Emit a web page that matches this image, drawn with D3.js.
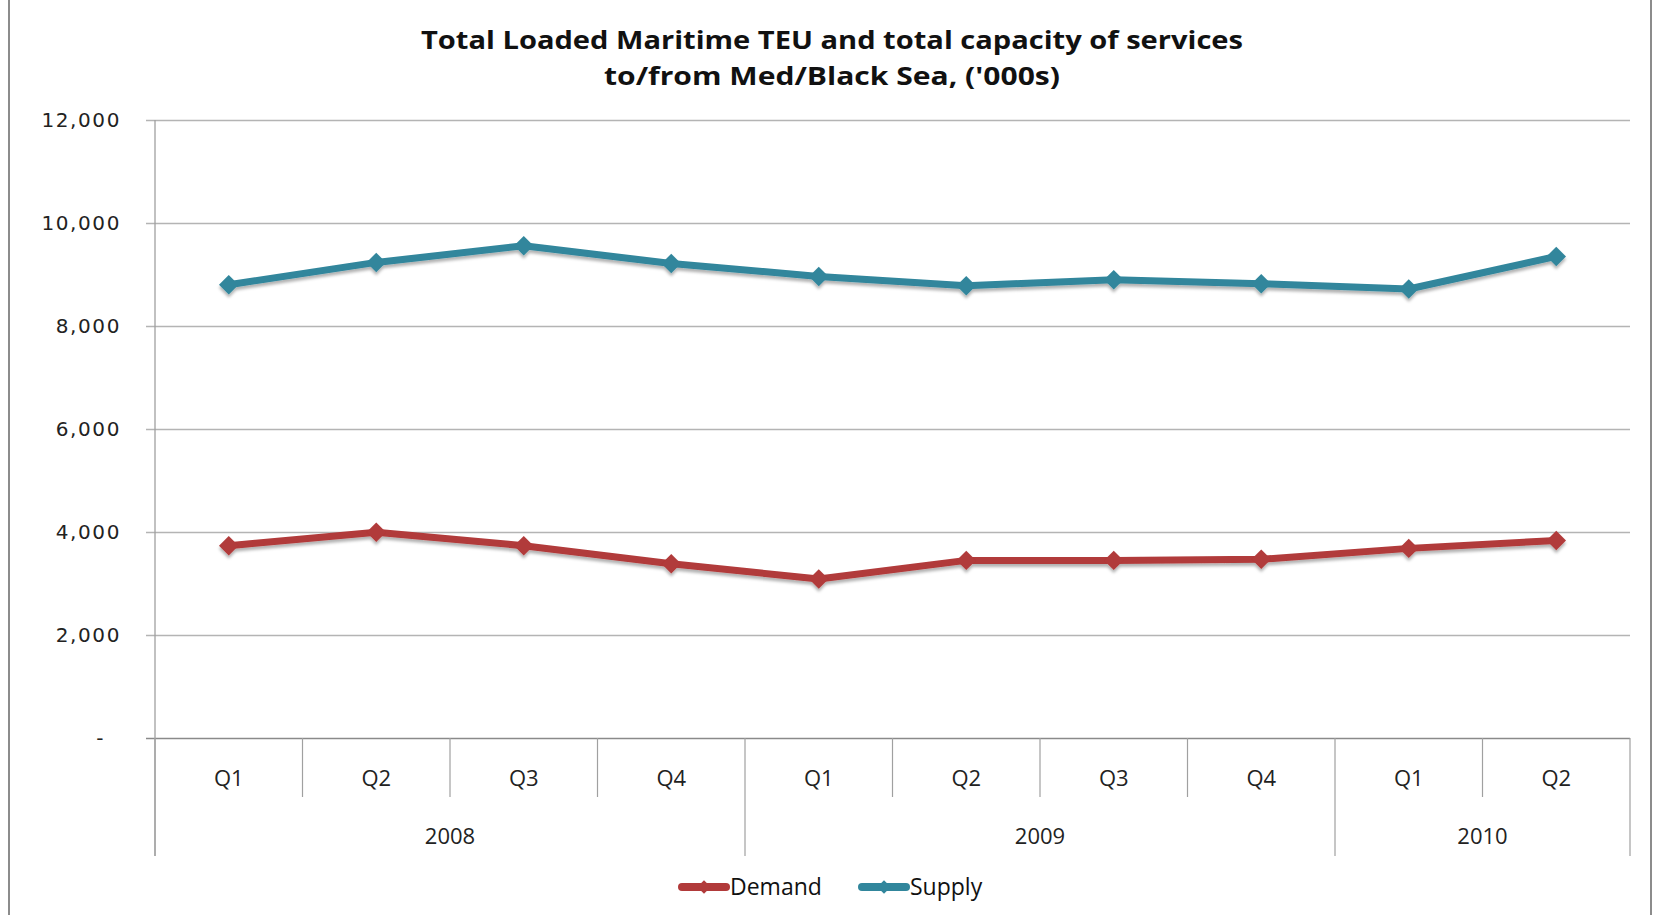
<!DOCTYPE html>
<html>
<head>
<meta charset="utf-8">
<script src="https://cdn.jsdelivr.net/npm/d3@7/dist/d3.min.js"></script>
<style>
  body { margin: 0; background: #fff; }
  svg { display: block; }
</style>
</head>
<body>
<svg></svg>
<script>
// quarters and years along the bottom
var quarters = ["Q1", "Q2", "Q3", "Q4", "Q1", "Q2", "Q3", "Q4", "Q1", "Q2"];
var years = ["2008", "2008", "2008", "2008", "2009", "2009", "2009", "2009", "2010", "2010"];
// '000s TEU
var demand = [3734, 3995, 3734, 3384, 3087, 3449, 3449, 3470, 3682, 3837];
var supply = [8802, 9235, 9559, 9214, 8963, 8782, 8899, 8821, 8718, 9351];
var yTicks = [0, 2000, 4000, 6000, 8000, 10000, 12000];
var seriesNames = ["Demand", "Supply"];
var seriesColors = ["#b13a3a", "#31869c"];

var svgWidth = 1654, svgHeight = 915;
var margin = { top: 120, right: 24, bottom: 177, left: 155 };
var width = svgWidth - margin.left - margin.right;
var height = svgHeight - margin.top - margin.bottom;

var svg = d3.select("svg")
  .attr("width", svgWidth)
  .attr("height", svgHeight);

// soft shadow like the excel markers
var defs = svg.append("defs");
defs.append("filter")
  .attr("id", "shadow")
  .attr("x", "-20%").attr("y", "-20%")
  .attr("width", "140%").attr("height", "160%")
  .append("feDropShadow")
  .attr("dx", 0).attr("dy", 3)
  .attr("stdDeviation", 1.8)
  .attr("flood-color", "#000")
  .attr("flood-opacity", 0.3);

// outer chart border
svg.append("line").attr("x1", 9).attr("x2", 9).attr("y1", 0).attr("y2", svgHeight)
  .attr("stroke", "#8c8c8c").attr("stroke-width", 2);
svg.append("line").attr("x1", 1651).attr("x2", 1651).attr("y1", 0).attr("y2", svgHeight)
  .attr("stroke", "#8c8c8c").attr("stroke-width", 2);

// title
var title = svg.append("g").attr("font-family", "'Open Sans', sans-serif")
  .attr("font-weight", "bold").attr("font-size", 25).attr("fill", "#111")
  .attr("text-anchor", "middle");
title.append("text").attr("x", 832).attr("y", 49)
  .attr("textLength", 822).attr("lengthAdjust", "spacingAndGlyphs")
  .text("Total Loaded Maritime TEU and total capacity of services");
title.append("text").attr("x", 832).attr("y", 85)
  .attr("textLength", 456).attr("lengthAdjust", "spacingAndGlyphs")
  .text("to/from Med/Black Sea, ('000s)");

var g = svg.append("g")
  .attr("transform", "translate(" + margin.left + "," + margin.top + ")");

var x = d3.scaleBand()
  .domain(d3.range(quarters.length))
  .range([0, width])
  .padding(0);

var y = d3.scaleLinear()
  .domain([0, 12000])
  .range([height, 0]);

// gridlines + y labels
var yAxis = g.append("g")
  .call(d3.axisLeft(y)
    .tickValues(yTicks)
    .tickSize(-width)
    .tickPadding(34)
    .tickFormat(function(d) { return d === 0 ? "-" : d3.format(",")(d); }));
yAxis.select(".domain").remove();
yAxis.selectAll(".tick line")
  .attr("x1", -9)
  .attr("stroke", function(d) { return d === 0 ? "#8a8a8a" : "#b4b4b4"; })
  .attr("stroke-width", 1.3);
yAxis.selectAll(".tick text")
  .attr("dx", function(d) { return d === 0 ? -16 : 0; })
  .attr("font-family", "'DejaVu Sans', Verdana, sans-serif")
  .attr("font-size", 20)
  .attr("letter-spacing", 1.6)
  .attr("fill", "#222");

// vertical axis line, running through the category rows
g.append("line")
  .attr("x1", 0).attr("x2", 0)
  .attr("y1", 0).attr("y2", height + 118)
  .attr("stroke", "#a0a0a0").attr("stroke-width", 1.3);

// category separators
var bounds = d3.range(quarters.length + 1);
g.selectAll(".sep")
  .data(bounds)
  .enter().append("line")
  .attr("class", "sep")
  .attr("x1", function(i) { return i < quarters.length ? x(i) : width; })
  .attr("x2", function(i) { return i < quarters.length ? x(i) : width; })
  .attr("y1", height)
  .attr("y2", function(i) {
    var isYear = i === 0 || i === quarters.length || years[i] !== years[i - 1];
    return height + (isYear ? 118 : 59);
  })
  .attr("stroke", "#a0a0a0").attr("stroke-width", 1.2);

// quarter labels
g.selectAll(".qlab")
  .data(quarters)
  .enter().append("text")
  .attr("class", "qlab")
  .attr("x", function(d, i) { return x(i) + x.bandwidth() / 2; })
  .attr("y", height + 48)
  .attr("text-anchor", "middle")
  .attr("font-family", "'Open Sans', sans-serif")
  .attr("font-size", 22)
  .attr("fill", "#222")
  .text(function(d) { return d; });

// year labels centred over their quarters
var yearGroups = d3.groups(d3.range(years.length), function(i) { return years[i]; });
g.selectAll(".ylab")
  .data(yearGroups)
  .enter().append("text")
  .attr("class", "ylab")
  .attr("x", function(d) { return d3.mean(d[1], function(i) { return x(i) + x.bandwidth() / 2; }); })
  .attr("y", height + 106)
  .attr("text-anchor", "middle")
  .attr("font-family", "'Open Sans', sans-serif")
  .attr("font-size", 22)
  .attr("fill", "#222")
  .text(function(d) { return d[0]; });

var line = d3.line()
  .x(function(d, i) { return x(i) + x.bandwidth() / 2; })
  .y(function(d) { return y(d); });

var diamond = d3.symbol().type(d3.symbolSquare).size(190);

[demand, supply].forEach(function(values, k) {
  var s = g.append("g").attr("filter", "url(#shadow)");
  s.append("path")
    .datum(values)
    .attr("fill", "none")
    .attr("stroke", seriesColors[k])
    .attr("stroke-width", 7)
    .attr("stroke-linejoin", "round")
    .attr("stroke-linecap", "round")
    .attr("d", line);
  s.selectAll(".pt")
    .data(values)
    .enter().append("path")
    .attr("class", "pt")
    .attr("d", diamond)
    .attr("fill", seriesColors[k])
    .attr("transform", function(d, i) {
      return "translate(" + (x(i) + x.bandwidth() / 2) + "," + y(d) + ") rotate(45)";
    });
});

// legend
var legend = svg.append("g").attr("transform", "translate(0,887)");
var legendX = [679, 859];
seriesNames.forEach(function(name, k) {
  var lg = legend.append("g").attr("transform", "translate(" + legendX[k] + ",0)");
  lg.append("line")
    .attr("x1", 3).attr("x2", 47).attr("y1", 0).attr("y2", 0)
    .attr("stroke", seriesColors[k]).attr("stroke-width", 8)
    .attr("stroke-linecap", "round");
  lg.append("path")
    .attr("d", d3.symbol().type(d3.symbolSquare).size(90))
    .attr("transform", "translate(25,0) rotate(45)")
    .attr("fill", seriesColors[k]);
  lg.append("text")
    .attr("x", 51).attr("y", 8)
    .attr("font-family", "'Open Sans', sans-serif")
    .attr("font-size", 23)
    .attr("fill", "#111")
    .text(name);
});
</script>
</body>
</html>
